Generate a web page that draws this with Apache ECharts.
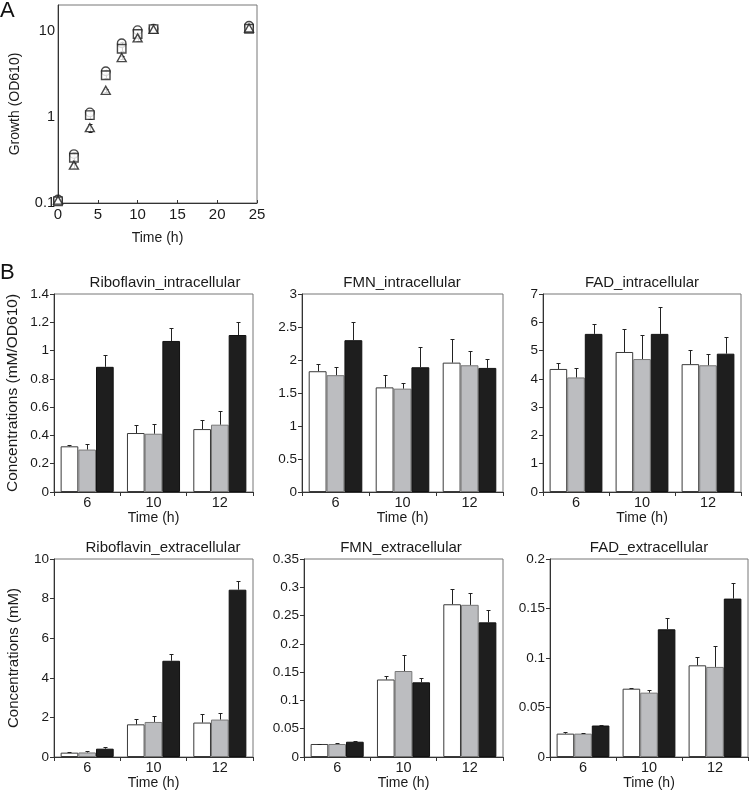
<!DOCTYPE html>
<html><head><meta charset="utf-8">
<script src="https://cdn.jsdelivr.net/npm/echarts@6/dist/echarts.min.js"></script>
<style>html,body{margin:0;padding:0;background:#fff}#c{width:750px;height:793px}</style>
</head><body><div id="c"></div><script>
// ---------- DATA ----------
const growthTime = [0, 2, 4, 6, 8, 10, 12, 24];
const growthCircle = [0.11, 0.37, 1.13, 3.4, 7.2, 10.2, 10.6, 11.5];
const growthSquare = [0.105, 0.335, 1.05, 3.05, 6.2, 9.2, 10.5, 10.6];
const growthTriangle = [0.108, 0.275, 0.75, 2.04, 4.9, 8.3, 10.4, 10.8];
const growthCircleErr = [0.005, 0.02, 0.06, 0.15, 0.3, 0.4, 0.3, 0.5];
const growthSquareErr = [0.005, 0.02, 0.1, 0.2, 0.4, 0.5, 0.3, 0.4];
const growthTriangleErr = [0.005, 0.02, 0.08, 0.1, 0.2, 0.6, 0.3, 0.3];
const timeTicks = [0, 5, 10, 15, 20, 25];

const categories = ['6', '10', '12'];
// each: [white, gray, black] series, values at 6,10,12 h
const riboIntraMean = [[0.323, 0.417, 0.445], [0.30, 0.412, 0.476], [0.885, 1.068, 1.11]];
const riboIntraErr  = [[0.01, 0.06, 0.065], [0.04, 0.07, 0.095], [0.083, 0.092, 0.09]];
const fmnIntraMean  = [[1.83, 1.585, 1.96], [1.77, 1.566, 1.92], [2.30, 1.89, 1.88]];
const fmnIntraErr   = [[0.11, 0.185, 0.36], [0.12, 0.08, 0.21], [0.28, 0.31, 0.14]];
const fadIntraMean  = [[4.35, 4.95, 4.52], [4.05, 4.70, 4.48], [5.59, 5.59, 4.89]];
const fadIntraErr   = [[0.2, 0.83, 0.5], [0.33, 0.86, 0.41], [0.36, 0.95, 0.58]];
const riboExtraMean = [[0.22, 1.65, 1.74], [0.23, 1.77, 1.89], [0.42, 4.86, 8.45]];
const riboExtraErr  = [[0.03, 0.27, 0.43], [0.05, 0.28, 0.31], [0.07, 0.36, 0.46]];
const fmnExtraMean  = [[0.023, 0.137, 0.270], [0.023, 0.152, 0.269], [0.027, 0.132, 0.238]];
const fmnExtraErr   = [[0.0005, 0.007, 0.027], [0.002, 0.028, 0.021], [0.001, 0.008, 0.022]];
const fadExtraMean  = [[0.0236, 0.069, 0.0926], [0.0236, 0.065, 0.091], [0.0318, 0.129, 0.160]];
const fadExtraErr   = [[0.0015, 0.001, 0.008], [0.0005, 0.003, 0.0215], [0.001, 0.011, 0.016]];

// ---------- LAYOUT / STYLE ----------
const FONT = '"Liberation Sans", Arial, Helvetica, sans-serif';
const TXT = '#1a1a1a';
const AX = '#333';
const barStyles = [
  {color: '#ffffff', borderColor: '#3a3a3a'},
  {color: '#bcbdc0', borderColor: '#777777'},
  {color: '#1e1e1e', borderColor: '#111111'}
];
const panels = [
  {mean: riboIntraMean, err: riboIntraErr, max: 1.4, interval: 0.2, title: 'Riboflavin_intracellular', yName: 'Concentrations (mM/OD610)', grid: {left: 54, top: 294, width: 199, height: 198}, tx: 165, ty: 283, yNameSize: 15.5},
  {mean: fmnIntraMean, err: fmnIntraErr, max: 3, interval: 0.5, title: 'FMN_intracellular', yName: '', grid: {left: 302, top: 294, width: 201, height: 198}, tx: 402, ty: 283},
  {mean: fadIntraMean, err: fadIntraErr, max: 7, interval: 1, title: 'FAD_intracellular', yName: '', grid: {left: 543, top: 294, width: 198, height: 198}, tx: 642, ty: 283},
  {mean: riboExtraMean, err: riboExtraErr, max: 10, interval: 2, title: 'Riboflavin_extracellular', yName: 'Concentrations (mM)', grid: {left: 54, top: 559, width: 199, height: 198}, tx: 163, ty: 548, yNameSize: 15},
  {mean: fmnExtraMean, err: fmnExtraErr, max: 0.35, interval: 0.05, title: 'FMN_extracellular', yName: '', grid: {left: 304, top: 559, width: 199, height: 198}, tx: 401, ty: 548},
  {mean: fadExtraMean, err: fadExtraErr, max: 0.2, interval: 0.05, title: 'FAD_extracellular', yName: '', grid: {left: 550, top: 559, width: 198, height: 198}, tx: 649, ty: 548}
];

const chart = echarts.init(document.getElementById('c'), null, {renderer: 'canvas'});

const grids = [{left: 58, top: 5, width: 199, height: 198, show: true, borderColor: '#777', borderWidth: 1, containLabel: false}];
const xAxes = [{
  gridIndex: 0, type: 'value', min: 0, max: 25, interval: 5,
  axisLine: {show: true, lineStyle: {color: AX}}, axisTick: {show: true, length: 3, inside: true, lineStyle: {color: AX}},
  axisLabel: {fontSize: 15, color: TXT, fontFamily: FONT, margin: 4,
    formatter: v => timeTicks.indexOf(v) >= 0 ? String(v) : ''},
  splitLine: {show: false},
  name: 'Time (h)', nameLocation: 'middle', nameGap: 28, nameTextStyle: {fontSize: 14, color: TXT, fontFamily: FONT}
}];
const yAxes = [{
  gridIndex: 0, type: 'log', logBase: 10, min: 0.1, max: 20,
  axisLine: {show: true, lineStyle: {color: AX}}, axisTick: {show: false},
  axisLabel: {fontSize: 14.5, color: TXT, fontFamily: FONT, margin: 3, showMaxLabel: false,
    formatter: v => {const l = Math.log10(v); return Math.abs(l - Math.round(l)) < 1e-6 ? String(+v.toPrecision(3)) : '';}},
  splitLine: {show: false},
  name: 'Growth (OD610)', nameLocation: 'middle', nameRotate: 90, nameGap: 36, nameTextStyle: {fontSize: 14, color: TXT, fontFamily: FONT}
}];
const series = [];

// Panel A error bars (symmetric)
function growthErr(params, api) {
  const t = api.value(0), v = api.value(1), e = api.value(2);
  const lo = api.coord([t, v - e]), hi = api.coord([t, v + e]);
  const x = Math.round(lo[0]) + 0.5;
  return {type: 'group', children: [
    {type: 'line', shape: {x1: x, y1: lo[1], x2: x, y2: hi[1]}, style: {stroke: '#222', lineWidth: 1}},
    {type: 'line', shape: {x1: x - 2, y1: Math.round(lo[1]) + 0.5, x2: x + 2, y2: Math.round(lo[1]) + 0.5}, style: {stroke: '#222', lineWidth: 1}},
    {type: 'line', shape: {x1: x - 2, y1: Math.round(hi[1]) + 0.5, x2: x + 2, y2: Math.round(hi[1]) + 0.5}, style: {stroke: '#222', lineWidth: 1}}
  ]};
}
[[growthCircle, growthCircleErr, 'circle'], [growthSquare, growthSquareErr, 'rect'], [growthTriangle, growthTriangleErr, 'triangle']].forEach(([vals, errs, sym], k) => {
  series.push({type: 'custom', xAxisIndex: 0, yAxisIndex: 0, renderItem: growthErr, z: 2, silent: true,
    data: growthTime.map((t, i) => [t, vals[i], errs[i]])});
  series.push({type: 'scatter', xAxisIndex: 0, yAxisIndex: 0, symbol: sym, symbolSize: sym === 'triangle' ? [9, 8] : 8.5, z: 3 + k,
    itemStyle: {color: '#fff', borderColor: '#1a1a1a', borderWidth: 1.4},
    data: growthTime.map((t, i) => [t, vals[i]])});
});

function barErr(offsetIdx) {
  return function (params, api) {
    const ci = api.value(0), v = api.value(1), e = api.value(2);
    const top = api.coord([ci, v]);
    const cap = api.coord([ci, v + e]);
    const catW = api.size([1, 0])[0];
    const bw = catW * 0.8 / 3;
    const x = Math.round(top[0] + offsetIdx * bw) + 0.5;
    const cy = Math.round(cap[1]) + 0.5;
    return {type: 'group', children: [
      {type: 'line', shape: {x1: x, y1: top[1], x2: x, y2: cy}, style: {stroke: '#222', lineWidth: 1}},
      {type: 'line', shape: {x1: x - 2, y1: cy, x2: x + 2, y2: cy}, style: {stroke: '#222', lineWidth: 1}}
    ]};
  };
}

const graphics = [
  {type: 'text', left: 0, top: 0, style: {text: 'A', font: '22px ' + FONT, fill: '#111'}},
  {type: 'text', left: 0, top: 262, style: {text: 'B', font: '22px ' + FONT, fill: '#111'}}
];

panels.forEach((p, idx) => {
  const gi = idx + 1;
  grids.push(Object.assign({show: true, borderColor: '#777', borderWidth: 1, containLabel: false}, p.grid));
  xAxes.push({
    gridIndex: gi, type: 'category', data: categories,
    axisLine: {show: true, lineStyle: {color: AX}},
    axisTick: {show: true, length: 4, alignWithLabel: false, lineStyle: {color: AX}},
    axisLabel: {fontSize: 14.5, color: TXT, fontFamily: FONT, margin: 3},
    name: 'Time (h)', nameLocation: 'middle', nameGap: 19, nameTextStyle: {fontSize: 14, color: TXT, fontFamily: FONT}
  });
  yAxes.push({
    gridIndex: gi, type: 'value', min: 0, max: p.max, interval: p.interval,
    axisLine: {show: true, lineStyle: {color: AX}},
    axisTick: {show: true, length: 4, lineStyle: {color: AX}},
    axisLabel: {fontSize: 13.5, color: TXT, fontFamily: FONT, margin: 5},
    splitLine: {show: false},
    name: p.yName, nameLocation: 'middle', nameRotate: 90, nameGap: 33,
    nameTextStyle: {fontSize: p.yNameSize || 14, color: TXT, fontFamily: FONT}
  });
  p.mean.forEach((vals, s) => {
    series.push({type: 'bar', xAxisIndex: gi, yAxisIndex: gi, barGap: '0%', barCategoryGap: '20%',
      itemStyle: Object.assign({borderWidth: 1}, barStyles[s]), z: 2, silent: true,
      data: vals});
  });
  p.mean.forEach((vals, s) => {
    series.push({type: 'custom', xAxisIndex: gi, yAxisIndex: gi, renderItem: barErr(s - 1), z: 5, silent: true,
      data: vals.map((v, i) => [i, v, p.err[s][i]])});
  });
  graphics.push({type: 'text', x: p.tx, y: p.ty, style: {text: p.title, font: '15px ' + FONT, fill: TXT, textAlign: 'center', textVerticalAlign: 'middle'}});
});

chart.setOption({
  animation: false,
  backgroundColor: '#fff',
  textStyle: {fontFamily: FONT},
  grid: grids, xAxis: xAxes, yAxis: yAxes, series: series, graphic: graphics
});
</script></body></html>
